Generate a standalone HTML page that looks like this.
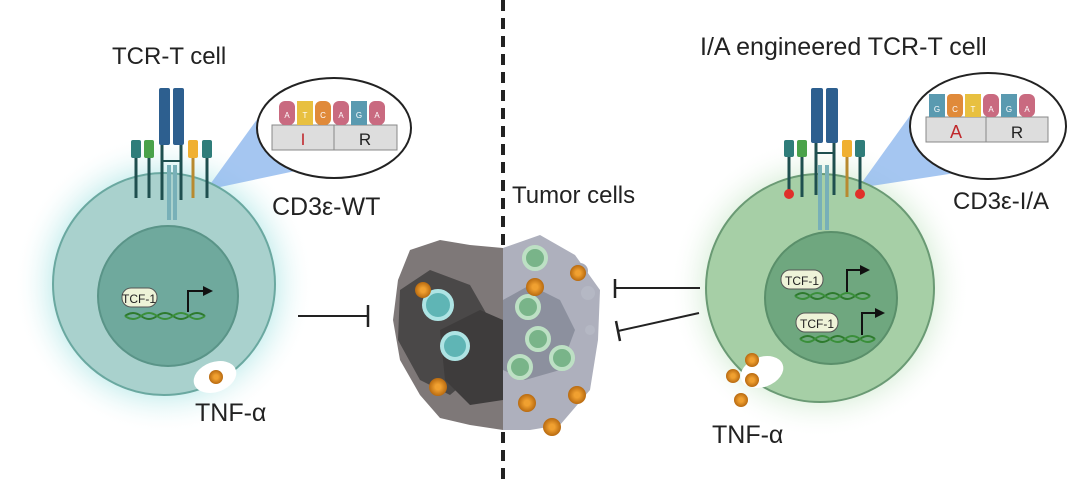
<!DOCTYPE html>
<html><head><meta charset="utf-8"><style>
html,body{margin:0;padding:0;background:#fff;}
svg{display:block;font-family:"Liberation Sans",sans-serif;}
</style></head><body>
<svg width="1080" height="485" viewBox="0 0 1080 485" xmlns="http://www.w3.org/2000/svg">
<defs>
<radialGradient id="gl" cx="0.5" cy="0.5" r="0.5">
<stop offset="0.65" stop-color="#8fdcdc" stop-opacity="0.7"/><stop offset="1" stop-color="#ffffff" stop-opacity="0"/></radialGradient>
<radialGradient id="gr" cx="0.5" cy="0.5" r="0.5">
<stop offset="0.65" stop-color="#b0dcb0" stop-opacity="0.7"/><stop offset="1" stop-color="#ffffff" stop-opacity="0"/></radialGradient>
<radialGradient id="orb"><stop offset="0.3" stop-color="#f0a030"/><stop offset="1" stop-color="#b86a10"/></radialGradient>
</defs>

<line x1="503" y1="0" x2="503" y2="485" stroke="#222" stroke-width="4" stroke-dasharray="11,7"/>

<!-- LEFT CELL -->
<circle cx="164" cy="284" r="150" fill="url(#gl)"/>
<polygon points="206,190 258,118 300,170" fill="#8fb8ee" opacity="0.8"/>
<circle cx="164" cy="284" r="111" fill="#a9d1cd" stroke="#6aa8a0" stroke-width="2"/>
<circle cx="168" cy="296" r="70" fill="#6fa99d" stroke="#5a9488" stroke-width="2"/>
<rect x="159" y="88" width="11" height="57" rx="2" fill="#2d5f8f"/>
<rect x="173" y="88" width="11" height="57" rx="2" fill="#2d5f8f"/>
<line x1="162" y1="145" x2="162" y2="200" stroke="#1f4f4f" stroke-width="3"/>
<line x1="181" y1="145" x2="181" y2="200" stroke="#1f4f4f" stroke-width="3"/>
<line x1="162" y1="161" x2="181" y2="161" stroke="#1f4f4f" stroke-width="2"/>
<rect x="167" y="165" width="4" height="55" fill="#78b0b8"/><rect x="173" y="165" width="4" height="55" fill="#78b0b8"/>
<rect x="131" y="140" width="10" height="18" rx="2" fill="#2f7d7a"/><line x1="136" y1="158" x2="136" y2="198" stroke="#1f4f4f" stroke-width="3"/>
<rect x="144" y="140" width="10" height="18" rx="2" fill="#4aa24a"/><line x1="149" y1="158" x2="149" y2="198" stroke="#1f4f4f" stroke-width="3"/>
<rect x="188" y="140" width="10" height="18" rx="2" fill="#f0b030"/><line x1="193" y1="158" x2="193" y2="198" stroke="#b88a30" stroke-width="3"/>
<rect x="202" y="140" width="10" height="18" rx="2" fill="#2f7d7a"/><line x1="207" y1="158" x2="207" y2="198" stroke="#1f4f4f" stroke-width="3"/>
<rect x="122" y="288" width="35" height="19" rx="9" fill="#eef3d8" stroke="#555" stroke-width="1"/>
<text x="139" y="303" font-size="12" text-anchor="middle" fill="#222">TCF-1</text>
<path d="M188 312 V291 H205" stroke="#111" stroke-width="2" fill="none"/><polygon points="203,286 213,291 203,296" fill="#111"/>
<path d="M125 316 q8 -6 16 0 t16 0 t16 0 t16 0 t16 0" stroke="#2d7a2d" stroke-width="2" fill="none"/>
<path d="M125 316 q8 6 16 0 t16 0 t16 0 t16 0 t16 0" stroke="#3a8f3a" stroke-width="2" fill="none"/>
<ellipse cx="215" cy="377" rx="22" ry="15" fill="#fff" transform="rotate(-20 215 377)"/>
<circle cx="216" cy="377" r="7" fill="url(#orb)"/>
<text x="195" y="421" font-size="25" fill="#222">TNF-α</text>
<text x="112" y="64" font-size="24" fill="#222">TCR-T cell</text>
<text x="272" y="215" font-size="25" fill="#222">CD3ε-WT</text>
<ellipse cx="334" cy="128" rx="77" ry="50" fill="#fff" stroke="#222" stroke-width="2"/>
<rect x="272" y="125" width="62" height="25" fill="#ddd" stroke="#888"/><rect x="334" y="125" width="63" height="25" fill="#ddd" stroke="#888"/>
<text x="303" y="145" font-size="17" fill="#c0282c" text-anchor="middle">I</text>
<text x="365" y="145" font-size="17" fill="#222" text-anchor="middle">R</text>
<g font-size="8" fill="#fff" text-anchor="middle">
<rect x="279" y="101" width="16" height="24" rx="6" fill="#c96a80"/><text x="287" y="118">A</text>
<rect x="297" y="101" width="16" height="24" fill="#e8c040"/><text x="305" y="118">T</text>
<rect x="315" y="101" width="16" height="24" rx="6" fill="#e08a3a"/><text x="323" y="118">C</text>
<rect x="333" y="101" width="16" height="24" rx="6" fill="#c96a80"/><text x="341" y="118">A</text>
<rect x="351" y="101" width="16" height="24" fill="#5a9ab0"/><text x="359" y="118">G</text>
<rect x="369" y="101" width="16" height="24" rx="6" fill="#c96a80"/><text x="377" y="118">A</text>
</g>
<line x1="298" y1="316" x2="368" y2="316" stroke="#222" stroke-width="2"/>
<line x1="368" y1="305" x2="368" y2="327" stroke="#222" stroke-width="2.5"/>

<!-- TUMOR -->
<g>
<path d="M410 250 L440 240 L470 245 L503 248 L503 430 L470 425 L440 418 L420 395 L400 360 L393 320 L398 280 Z" fill="#7e7878"/>
<path d="M400 290 L430 270 L470 285 L490 320 L480 370 L450 395 L420 380 L398 340 Z" fill="#4a4848"/>
<path d="M440 330 L480 310 L503 320 L503 400 L470 405 L445 380 Z" fill="#3e3c3c"/>
<path d="M503 248 L540 235 L575 255 L600 290 L598 340 L590 390 L560 425 L530 430 L503 430 Z" fill="#aeb0bd"/>
<path d="M503 300 L530 285 L560 300 L575 330 L560 370 L525 380 L503 370 Z" fill="#8c909e"/>
<circle cx="588" cy="293" r="7" fill="#b5b8c4"/><circle cx="590" cy="330" r="5" fill="#b5b8c4"/>
<circle cx="580" cy="271" r="8" fill="#a8aab6"/>
<circle cx="438" cy="305" r="14" fill="#5fb5b5" stroke="#aee4e4" stroke-width="4"/>
<circle cx="455" cy="346" r="13" fill="#5fb5b5" stroke="#aee4e4" stroke-width="4"/>
<circle cx="535" cy="258" r="11" fill="#79b489" stroke="#bde0c4" stroke-width="4"/>
<circle cx="528" cy="307" r="11" fill="#79b489" stroke="#bde0c4" stroke-width="4"/>
<circle cx="538" cy="339" r="11" fill="#79b489" stroke="#bde0c4" stroke-width="4"/>
<circle cx="562" cy="358" r="11" fill="#79b489" stroke="#bde0c4" stroke-width="4"/>
<circle cx="520" cy="367" r="11" fill="#79b489" stroke="#bde0c4" stroke-width="4"/>
<g fill="url(#orb)">
<circle cx="423" cy="290" r="8"/><circle cx="438" cy="387" r="9"/><circle cx="535" cy="287" r="9"/>
<circle cx="578" cy="273" r="8"/><circle cx="527" cy="403" r="9"/><circle cx="577" cy="395" r="9"/><circle cx="552" cy="427" r="9"/>
</g>
</g>
<text x="512" y="203" font-size="24" fill="#222">Tumor cells</text>

<!-- RIGHT CELL -->
<circle cx="820" cy="288" r="150" fill="url(#gr)"/>
<polygon points="858,188 914,110 975,170" fill="#8fb8ee" opacity="0.8"/>
<circle cx="820" cy="288" r="114" fill="#a6cfa6" stroke="#6a9a74" stroke-width="2"/>
<circle cx="831" cy="298" r="66" fill="#6fa77f" stroke="#5a8f6a" stroke-width="2"/>
<rect x="811" y="88" width="12" height="55" rx="2" fill="#2d5f8f"/>
<rect x="826" y="88" width="12" height="55" rx="2" fill="#2d5f8f"/>
<line x1="816" y1="143" x2="816" y2="195" stroke="#1f4f4f" stroke-width="3"/>
<line x1="834" y1="143" x2="834" y2="195" stroke="#1f4f4f" stroke-width="3"/>
<line x1="816" y1="153" x2="834" y2="153" stroke="#1f4f4f" stroke-width="2"/>
<rect x="818" y="165" width="4" height="65" fill="#78b0b8"/><rect x="825" y="165" width="4" height="65" fill="#78b0b8"/>
<rect x="784" y="140" width="10" height="17" rx="2" fill="#2f7d7a"/><line x1="789" y1="157" x2="789" y2="197" stroke="#1f4f4f" stroke-width="3"/>
<rect x="797" y="140" width="10" height="17" rx="2" fill="#4aa24a"/><line x1="802" y1="157" x2="802" y2="197" stroke="#1f4f4f" stroke-width="3"/>
<rect x="842" y="140" width="10" height="17" rx="2" fill="#f0b030"/><line x1="847" y1="157" x2="847" y2="197" stroke="#b88a30" stroke-width="3"/>
<rect x="855" y="140" width="10" height="17" rx="2" fill="#2f7d7a"/><line x1="860" y1="157" x2="860" y2="197" stroke="#1f4f4f" stroke-width="3"/>
<circle cx="789" cy="194" r="5" fill="#e0302a"/><circle cx="860" cy="194" r="5" fill="#e0302a"/>
<rect x="781" y="270" width="42" height="19" rx="9" fill="#eef3d8" stroke="#555"/>
<text x="802" y="285" font-size="12" text-anchor="middle" fill="#222">TCF-1</text>
<path d="M847 292 V270 H862" stroke="#111" stroke-width="2" fill="none"/><polygon points="860,265 870,270 860,275" fill="#111"/>
<path d="M795 296 q8 -6 15 0 t15 0 t15 0 t15 0 t15 0" stroke="#2d7a2d" stroke-width="2" fill="none"/>
<path d="M795 296 q8 6 15 0 t15 0 t15 0 t15 0 t15 0" stroke="#3a8f3a" stroke-width="2" fill="none"/>
<rect x="796" y="313" width="42" height="19" rx="9" fill="#eef3d8" stroke="#555"/>
<text x="817" y="328" font-size="12" text-anchor="middle" fill="#222">TCF-1</text>
<path d="M862 335 V313 H877" stroke="#111" stroke-width="2" fill="none"/><polygon points="875,308 885,313 875,318" fill="#111"/>
<path d="M800 339 q8 -6 15 0 t15 0 t15 0 t15 0 t15 0" stroke="#2d7a2d" stroke-width="2" fill="none"/>
<path d="M800 339 q8 6 15 0 t15 0 t15 0 t15 0 t15 0" stroke="#3a8f3a" stroke-width="2" fill="none"/>
<ellipse cx="762" cy="372" rx="22" ry="15" fill="#fff" transform="rotate(-20 762 372)"/>
<g fill="url(#orb)"><circle cx="752" cy="360" r="7"/><circle cx="733" cy="376" r="7"/><circle cx="752" cy="380" r="7"/><circle cx="741" cy="400" r="7"/></g>
<text x="712" y="443" font-size="25" fill="#222">TNF-α</text>
<text x="700" y="55" font-size="25" fill="#222">I/A engineered TCR-T cell</text>
<text x="953" y="209" font-size="24" fill="#222">CD3ε-I/A</text>
<ellipse cx="988" cy="126" rx="78" ry="53" fill="#fff" stroke="#222" stroke-width="2"/>
<rect x="926" y="117" width="60" height="25" fill="#ddd" stroke="#888"/><rect x="986" y="117" width="62" height="25" fill="#ddd" stroke="#888"/>
<text x="956" y="138" font-size="18" fill="#c0282c" text-anchor="middle">A</text>
<text x="1017" y="138" font-size="17" fill="#222" text-anchor="middle">R</text>
<g font-size="8" fill="#fff" text-anchor="middle">
<rect x="929" y="94" width="16" height="23" fill="#5a9ab0"/><text x="937" y="112">G</text>
<rect x="947" y="94" width="16" height="23" rx="4" fill="#e08a3a"/><text x="955" y="112">C</text>
<rect x="965" y="94" width="16" height="23" fill="#e8c040"/><text x="973" y="112">T</text>
<rect x="983" y="94" width="16" height="23" rx="6" fill="#c96a80"/><text x="991" y="112">A</text>
<rect x="1001" y="94" width="16" height="23" fill="#5a9ab0"/><text x="1009" y="112">G</text>
<rect x="1019" y="94" width="16" height="23" rx="6" fill="#c96a80"/><text x="1027" y="112">A</text>
</g>
<line x1="615" y1="288" x2="700" y2="288" stroke="#222" stroke-width="2"/>
<line x1="615" y1="279" x2="615" y2="298" stroke="#222" stroke-width="2.5"/>
<line x1="618" y1="331" x2="699" y2="313" stroke="#222" stroke-width="2"/>
<line x1="616" y1="321" x2="620" y2="341" stroke="#222" stroke-width="2.5"/>
</svg>
</body></html>
